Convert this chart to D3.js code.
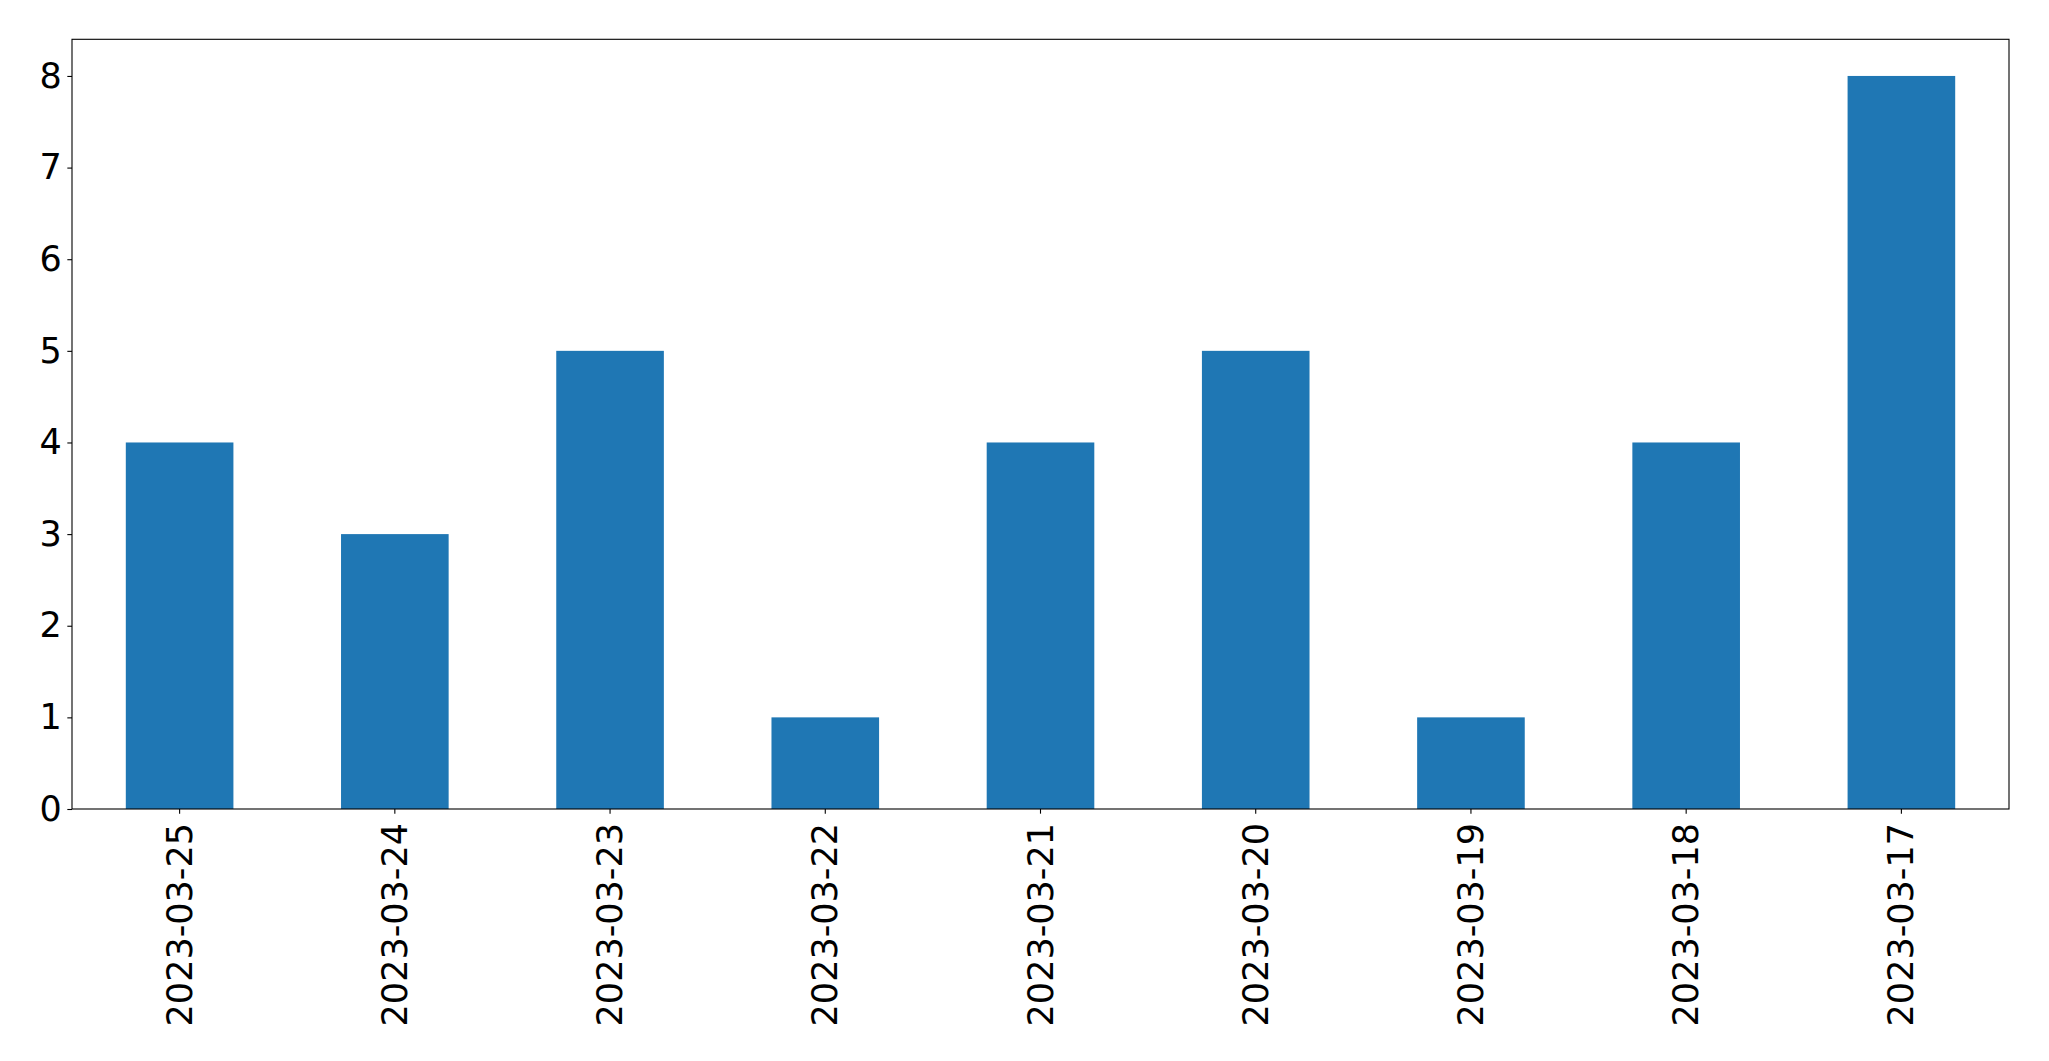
<!DOCTYPE html>
<html>
<head>
<meta charset="utf-8">
<script src="https://cdn.jsdelivr.net/npm/d3@7"></script>
<style>
html, body { margin: 0; padding: 0; background: #fff; }
svg { display: block; }
text { font-family: "DejaVu Sans", sans-serif; }
</style>
</head>
<body>
<script>
const categories = ["2023-03-25","2023-03-24","2023-03-23","2023-03-22","2023-03-21","2023-03-20","2023-03-19","2023-03-18","2023-03-17"];
const values = [4, 3, 5, 1, 4, 5, 1, 4, 8];
const yTicks = [0, 1, 2, 3, 4, 5, 6, 7, 8];

const W = 2049, H = 1061;
const margin = {left: 72, right: 2049 - 2009, top: 39.3, bottom: 1061 - 809};
const fontSize = 35;

const svg = d3.select("body").append("svg").attr("width", W).attr("height", H);

const x = d3.scaleBand().domain(categories).range([margin.left, W - margin.right]).paddingInner(0.5).paddingOuter(0.25);
const y = d3.scaleLinear().domain([0, 8.4]).range([H - margin.bottom, margin.top]);

svg.append("g").selectAll("rect").data(values).join("rect")
  .attr("x", (d, i) => x(categories[i]))
  .attr("width", x.bandwidth())
  .attr("y", d => y(d))
  .attr("height", d => y(0) - y(d))
  .attr("fill", "#1f77b4");

const yAxis = svg.append("g").attr("transform", `translate(${margin.left},0)`)
  .call(d3.axisLeft(y).tickValues(yTicks).tickFormat(d3.format("d")).tickSize(4.67).tickPadding(5.5));
yAxis.select(".domain").remove();
yAxis.selectAll("line").attr("stroke", "#000").attr("stroke-width", 1.1);
yAxis.selectAll("text").attr("font-size", fontSize).attr("fill", "#000").attr("font-family", "DejaVu Sans");

const xAxis = svg.append("g").attr("transform", `translate(0,${H - margin.bottom})`)
  .call(d3.axisBottom(x).tickSize(4.67).tickPadding(4.67));
xAxis.select(".domain").remove();
xAxis.selectAll("line").attr("stroke", "#000").attr("stroke-width", 1.1);
xAxis.selectAll("text")
  .attr("font-size", fontSize).attr("fill", "#000").attr("font-family", "DejaVu Sans")
  .attr("text-anchor", "end")
  .attr("y", 0).attr("x", 0).attr("dy", null)
  .attr("transform", "translate(0,14) rotate(-90)")
  .attr("dominant-baseline", "central");

svg.append("rect")
  .attr("x", margin.left).attr("y", margin.top)
  .attr("width", W - margin.right - margin.left)
  .attr("height", H - margin.bottom - margin.top)
  .attr("fill", "none").attr("stroke", "#000").attr("stroke-width", 1.1);
</script>
</body>
</html>
